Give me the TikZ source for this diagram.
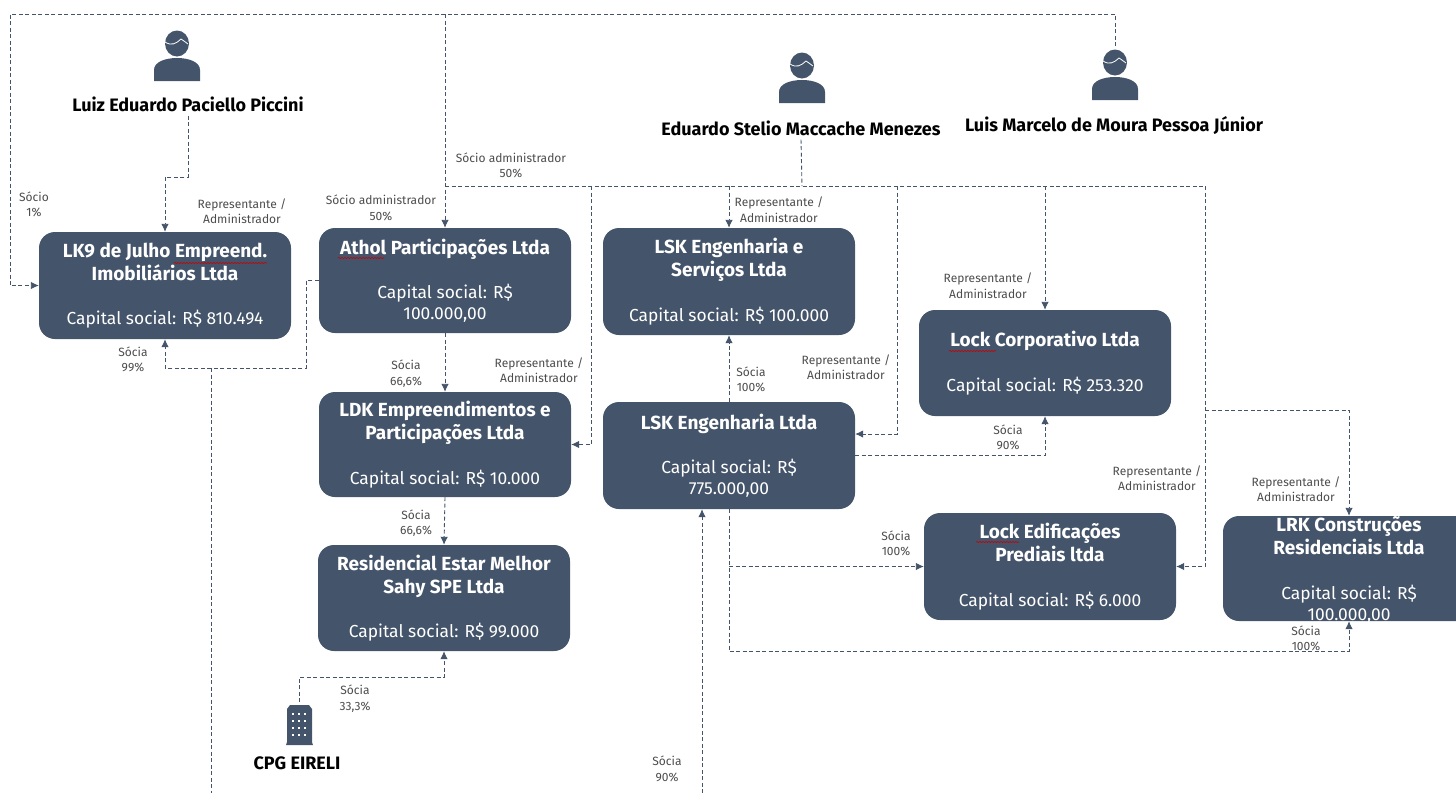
\documentclass[tikz,border=0pt]{standalone}
\usepackage{fontspec}
\setmainfont{Fira Sans}
\usetikzlibrary{arrows.meta,decorations.pathmorphing}
\definecolor{corpblue}{HTML}{44546A}
\newcommand{\corpname}[1]{{\fontsize{19}{23}\selectfont\bfseries #1}}
\tikzset{
  corpbox/.style={fill=corpblue,text=white,rounded corners=16pt,minimum width=252pt,inner sep=0pt,align=center,
    font=\fontsize{17.4}{23}\selectfont,execute at begin node={\rule{0pt}{20pt}}},
  holder/.style={font=\fontsize{18}{20}\selectfont\bfseries,text=black,inner sep=4pt},
  share/.style={font=\fontsize{12}{15.5}\selectfont,text=black!70,align=center,inner sep=0pt},
  link/.style={draw=corpblue,line width=0.9pt,dash pattern=on 4pt off 2.5pt},
  linkto/.style={link,-{Latex[length=8pt,width=7.5pt]}},
  spell/.style={draw=red!80!black,line width=0.6pt,decorate,decoration={snake,amplitude=0.6pt,segment length=3pt}},
  person/.pic={
    \fill[corpblue] (0,12.5) ellipse (12 and 13);
    \draw[white,line width=0.8pt] (-12,11) .. controls (-6,15) and (-1,13) .. (4,8) .. controls (6,9) and (8,11) .. (11,13);
    \fill[corpblue] (-23,50) -- (-23,39) .. controls (-23,31) and (-12,27) .. (0,27) .. controls (12,27) and (23,31) .. (23,39) -- (23,50) -- cycle;
  }
}
\begin{document}
\begin{tikzpicture}[x=1pt,y=-1pt]
\clip (0,0) rectangle (1456,793);
% companies, positions in pixels of the page
\node[corpbox,minimum height=107pt] (lkNove) at (165,285.5) {\corpname{LK9 de Julho Empreend.}\\\corpname{Imobiliários Ltda}\\[21.5pt]Capital social: R\$ 810.494};
\node[corpbox,minimum height=105pt] (athol) at (445,280.5) {\corpname{Athol Participações Ltda}\\[21.5pt]Capital social: R\$\\[-2pt]100.000,00};
\node[corpbox,minimum height=105pt] (ldk) at (445,444.5) {\corpname{LDK Empreendimentos e}\\\corpname{Participações Ltda}\\[21.5pt]Capital social: R\$ 10.000};
\node[corpbox,minimum height=106pt] (sahy) at (444,598) {\corpname{Residencial Estar Melhor}\\\corpname{Sahy SPE Ltda}\\[21.5pt]Capital social: R\$ 99.000};
\node[corpbox,minimum height=107pt] (lskServ) at (729,281.5) {\corpname{LSK Engenharia e}\\\corpname{Serviços Ltda}\\[21.5pt]Capital social: R\$ 100.000};
\node[corpbox,minimum height=107pt] (lskEng) at (729,455.5) {\corpname{LSK Engenharia Ltda}\\[21.5pt]Capital social: R\$\\[-2pt]775.000,00};
\node[corpbox,minimum height=106pt] (lockCorp) at (1045,363) {\corpname{Lock Corporativo Ltda}\\[21.5pt]Capital social: R\$ 253.320};
\node[corpbox,minimum height=107pt] (lockEdif) at (1050,566.5) {\corpname{Lock Edificações}\\\corpname{Prediais ltda}\\[21.5pt]Capital social: R\$ 6.000};
\node[corpbox,minimum height=105pt,execute at begin node={},text depth=0pt] (lrk) at (1349,568.5) {\corpname{LRK Construções}\\\corpname{Residenciais Ltda}\\[21.5pt]Capital social: R\$\\[-2pt]100.000,00};
% spelling marks
\draw[spell] (174,263) -- (267,263);
\draw[spell] (338,258) -- (384,258);
\draw[spell] (949,351) -- (996,351);
\draw[spell] (976,542) -- (1019,542);
% people
\pic at (177,31) {person};
\pic at (802,53) {person};
\pic at (1115,50) {person};
\node[holder] (luiz) at (188,104) {Luiz Eduardo Paciello Piccini};
\node[holder] (eduardo) at (801,128) {Eduardo Stelio Maccache Menezes};
\node[holder] (marcelo) at (1114,126) {Luis Marcelo de Moura Pessoa Júnior};
% building
\fill[corpblue] (287,709) -- (290,705) -- (309,705) -- (312,709) -- (312,742) -- (313,745) -- (286,745) -- (287,742) -- cycle;
\foreach \wy in {714,721,728,735}
  \foreach \wx in {293,299,305}
    \fill[white] (\wx-1,\wy-1) rectangle (\wx+1,\wy+1);
\node[holder] (cpg) at (297,763) {CPG EIRELI};
% free ends and bends
\coordinate (topRight) at (1115,14);
\coordinate (topLeft) at (10,14);
\coordinate (topMid) at (445,14);
\coordinate (marceloEnd) at (1115,46);
\coordinate (luizBend) at (165,177);
\coordinate (bus) at (802,186);
\coordinate (busLeft) at (445,186);
\coordinate (busRight) at (1205,186);
\coordinate (busLdk) at (591,186);
\coordinate (busServ) at (729,186);
\coordinate (busEng) at (897,186);
\coordinate (busCorp) at (1045,186);
\coordinate (lrkBend) at (1205,410);
\coordinate (atholBend) at (306,368);
\coordinate (lkBranch) at (211,368);
\coordinate (lkBottom) at (211,793);
\coordinate (engBottom) at (702,793);
\coordinate (cpgBend) at (299,677);
\coordinate (cpgEnd) at (299,702);
\coordinate (engRow) at (729,651.5);
\coordinate (engEdif) at (729,566.5);
% connectors
\draw[linkto] (marceloEnd) -- (topRight) -- (topLeft) |- (lkNove.west);
\draw[linkto] (topMid) -- (athol.north);
\draw[linkto] (luiz.south) |- (luizBend) -- (lkNove.north);
\draw[linkto] (athol.west) -| (atholBend) -| (lkNove.south);
\draw[link] (lkBranch) -- (lkBottom);
\draw[link] (eduardo.south) -- (bus);
\draw[link] (busLeft) -- (busRight);
\draw[linkto] (busLdk) |- (ldk.east);
\draw[linkto] (busServ) -- (lskServ.north);
\draw[linkto] (busEng) |- (lskEng.east |- 0,434);
\draw[linkto] (busCorp) -- (lockCorp.north);
\draw[linkto] (busRight) |- (lockEdif.east);
\draw[linkto] (lrkBend) -| (lrk.north);
\draw[linkto] (athol.south) -- (ldk.north);
\draw[linkto] (ldk.south) -- (sahy.north);
\draw[linkto] (cpgEnd) -- (cpgBend) -| (sahy.south);
\draw[linkto] (lskEng.north) -- (lskServ.south);
\draw[linkto] (lskEng.east) -| (lockCorp.south);
\draw[linkto] (lskEng.south) -- (engRow) -| (lrk.south);
\draw[linkto] (engEdif) -- (lockEdif.west);
\draw[linkto] (engBottom) -- (engBottom |- lskEng.south);
% labels on the connectors
\node[share] (l1) at (34,204.5) {Sócio\\1\%};
\node[share] (l2) at (242,211) {Representante /\\Administrador};
\node[share] (l3) at (381,208) {Sócio administrador\\50\%};
\node[share] (l4) at (511,165.5) {Sócio administrador\\50\%};
\node[share] (l5) at (133,359.5) {Sócia\\99\%};
\node[share] (l6) at (406,373.5) {Sócia\\66,6\%};
\node[share] (l7) at (539,370) {Representante /\\Administrador};
\node[share] (l8) at (779,209.5) {Representante /\\Administrador};
\node[share] (l9) at (988,285.5) {Representante /\\Administrador};
\node[share] (l10) at (751,379.5) {Sócia\\100\%};
\node[share] (l11) at (846,367) {Representante /\\Administrador};
\node[share] (l12) at (1008,437.5) {Sócia\\90\%};
\node[share] (l13) at (1157,478) {Representante /\\Administrador};
\node[share] (l14) at (1296,489) {Representante /\\Administrador};
\node[share] (l15) at (896,543.5) {Sócia\\100\%};
\node[share] (l16) at (1306,638.5) {Sócia\\100\%};
\node[share] (l17) at (416,523) {Sócia\\66,6\%};
\node[share] (l18) at (355,698.5) {Sócia\\33,3\%};
\node[share] (l19) at (667,769) {Sócia\\90\%};
\end{tikzpicture}
\end{document}
